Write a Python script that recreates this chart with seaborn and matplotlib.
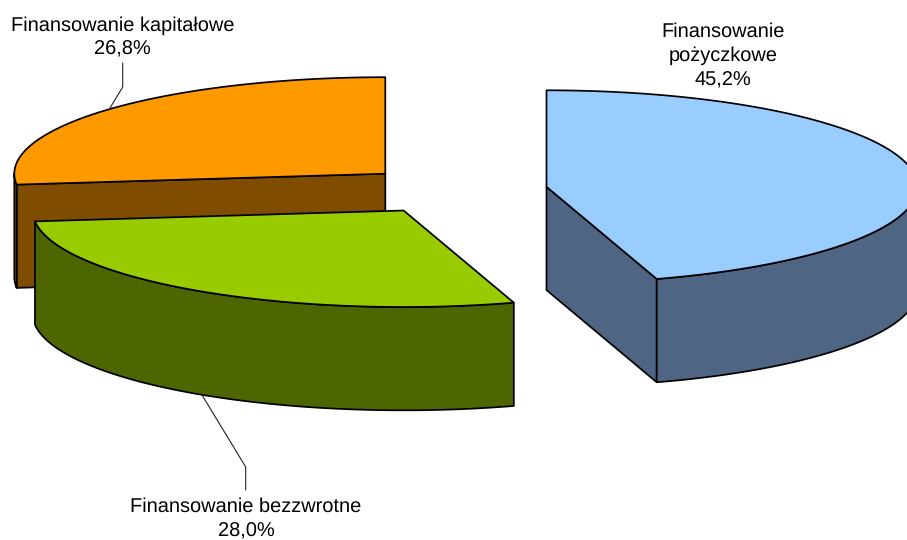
import numpy as np
import matplotlib
matplotlib.use("Agg")
import matplotlib.pyplot as plt
import seaborn as sns

# data
labels = ["Finansowanie\npożyczkowe\n45,2%", "Finansowanie bezzwrotne\n28,0%", "Finansowanie kapitałowe\n26,8%"]
values = [45.2, 28.0, 26.8]
top_colors = ["#99CCFF", "#99CC00", "#FF9900"]
side_colors = ["#4F6584", "#4D6600", "#804D00"]

sns.set_theme(style="white")
plt.rcParams['font.family'] = ['Liberation Sans', 'DejaVu Sans']
plt.rcParams['text.hinting'] = 'no_hinting'
plt.rcParams['text.hinting_factor'] = 1

W, H = 907, 540
fig = plt.figure(figsize=(W / 100, H / 100), dpi=100)
ax = fig.add_axes([0, 0, 1, 1])
ax.set_xlim(0, W)
ax.set_ylim(H, 0)
ax.axis("off")
sns.despine(ax=ax, left=True, bottom=True)

RX, RY, DEPTH = 371, 96.5, 103.3
centers = [(546.5, 186.8), (403.6, 210.5), (385.3, 173.7)]
EDGE = dict(edgecolor="black", linewidth=1.25, joinstyle="round")


def ell(c, t):
    return c[0] + RX * np.sin(t), c[1] - RY * np.cos(t)


fracs = np.array(values) / sum(values)
stops = np.cumsum(np.r_[0, fracs]) * 2 * np.pi


def draw_slice(i):
    c = centers[i]
    t0, t1 = stops[i], stops[i + 1]
    t = np.linspace(t0, t1, 300)
    x, y = ell(c, t)
    xm, ym = ell(c, (t0 + t1) / 2)
    # cut walls: drawn only when the slice lies above the cut line (wall faces the viewer)
    for tc in (t0, t1):
        xe, ye = ell(c, tc)
        if abs(xe - c[0]) < 1e-6:
            continue
        yline = c[1] + (ye - c[1]) / (xe - c[0]) * (xm - c[0])
        if ym < yline:
            ax.fill([c[0], xe, xe, c[0]], [c[1], ye, ye + DEPTH, c[1] + DEPTH],
                    facecolor=side_colors[i], **EDGE)
    # outer wall: only the front half of the rim
    lo, hi = max(t0, np.pi / 2), min(t1, 3 * np.pi / 2)
    if hi > lo:
        tw = np.linspace(lo, hi, 300)
        xw, yw = ell(c, tw)
        ax.fill(np.r_[xw, xw[::-1]], np.r_[yw, yw[::-1] + DEPTH], facecolor=side_colors[i], **EDGE)
    # top face
    ax.fill(np.r_[c[0], x], np.r_[c[1], y], facecolor=top_colors[i], **EDGE)


for i in (0, 2, 1):
    draw_slice(i)

ax.plot([110, 122.7, 122.7], [108, 87, 63], color="#222222", lw=0.8)
ax.plot([202, 245.7, 245.7], [395, 467, 490], color="#222222", lw=0.8)

FS = 14.4
LS = 1.39
ax.text(723, 56, labels[0], ha="center", va="center", fontsize=FS, color="black", linespacing=LS)
ax.text(246, 519, labels[1], ha="center", va="center", fontsize=FS, color="black", linespacing=LS)
ax.text(122.5, 37.5, labels[2], ha="center", va="center", fontsize=FS, color="black", linespacing=LS)

fig.savefig("out.png", dpi=100)
